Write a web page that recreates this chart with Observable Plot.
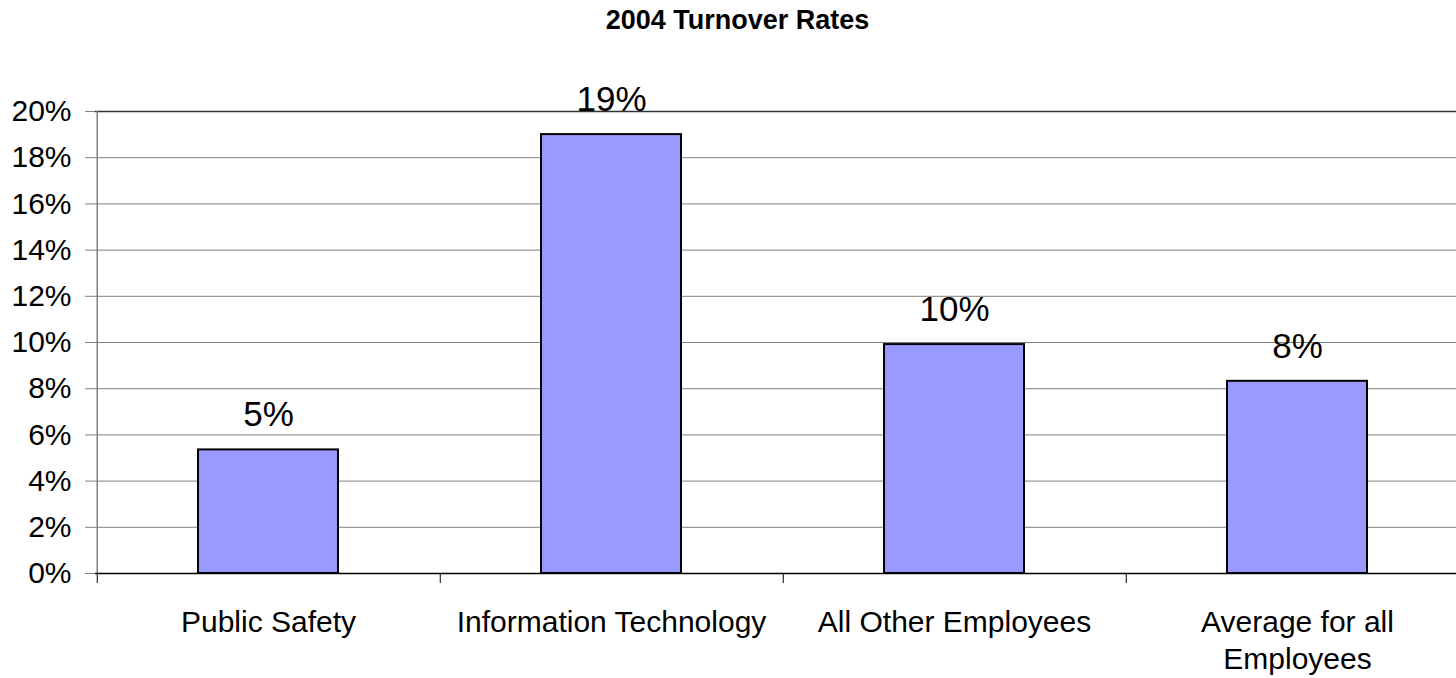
<!DOCTYPE html>
<html>
<head>
<meta charset="utf-8">
<script src="https://cdn.jsdelivr.net/npm/d3@7"></script>
<script src="https://cdn.jsdelivr.net/npm/@observablehq/plot@0.6"></script>
<style>
  html, body { margin: 0; padding: 0; background: #fff; }
  body { width: 1456px; height: 678px; overflow: hidden; font-family: "Liberation Sans", Arial, sans-serif; }
  #title { width: 1456px; height: 40px; line-height: 40px; text-align: center; font-weight: bold; font-size: 27px; padding-left: 19px; box-sizing: border-box; color: #000; }
</style>
</head>
<body>
<div id="title">2004 Turnover Rates</div>
<div id="chart"></div>
<script>
const categories = ["Public Safety", "Information Technology", "All Other Employees", "Average for all Employees"];
const tickLabels = ["Public Safety", "Information Technology", "All Other Employees", "Average for all\nEmployees"];
const values = [0.0535, 0.19, 0.0991, 0.0832];
const valueLabels = ["5%", "19%", "10%", "8%"];
const yTicks = [0, 0.02, 0.04, 0.06, 0.08, 0.10, 0.12, 0.14, 0.16, 0.18, 0.20];

const data = categories.map((c, i) => ({category: c, value: values[i], label: valueLabels[i], tick: tickLabels[i]}));
const tickMap = new Map(categories.map((c, i) => [c, tickLabels[i]]));

const width = 1456, height = 638;
const marginLeft = 95, marginTop = 71, marginBottom = 105, marginRight = 0;
const xRange = [95, 1469];
const step = (xRange[1] - xRange[0]) / categories.length;

const chart = Plot.plot({
  width, height, marginLeft, marginTop, marginBottom, marginRight,
  style: {fontFamily: "'Liberation Sans', Arial, sans-serif", fontSize: "30px", color: "#000", background: "#fff"},
  x: {domain: categories, range: xRange, paddingInner: 0.593, paddingOuter: 0.2965, label: null},
  y: {domain: [0, 0.2], label: null},
  marks: [
    Plot.gridY(yTicks.slice(0, -1), {stroke: "#808080", strokeOpacity: 1, strokeWidth: 1}),
    Plot.gridY([0.2], {stroke: "#333", strokeOpacity: 1, strokeWidth: 1.5}),
    Plot.axisY(yTicks, {tickSize: 10, tickPadding: 14, tickFormat: d3.format(".0%"), stroke: "#808080", fontSize: 30, label: null}),
    Plot.ruleX([0], {x: () => categories[0], dx: -step / 2 + 0.5, y1: 0, y2: 0.2, stroke: "#808080", strokeWidth: 1.5}),
    Plot.barY(data, {x: "category", y: "value", fill: "#9999FF", stroke: "#000", strokeWidth: 2}),
    Plot.ruleY([0], {stroke: "#000", strokeWidth: 1.5}),
    Plot.axisX({tickSize: 10, tickFormat: () => "", dx: -step / 2 + 0.5, stroke: "#000"}),
    Plot.axisX({tickSize: 0, tickPadding: 32, tickFormat: d => tickMap.get(d), fontSize: 30, lineHeight: 1.23, label: null}),
    Plot.text(data, {x: "category", y: "value", text: "label", fontSize: 35, dy: -35, lineAnchor: "middle", fill: "#000"})
  ]
});
document.getElementById("chart").appendChild(chart);
</script>
</body>
</html>
